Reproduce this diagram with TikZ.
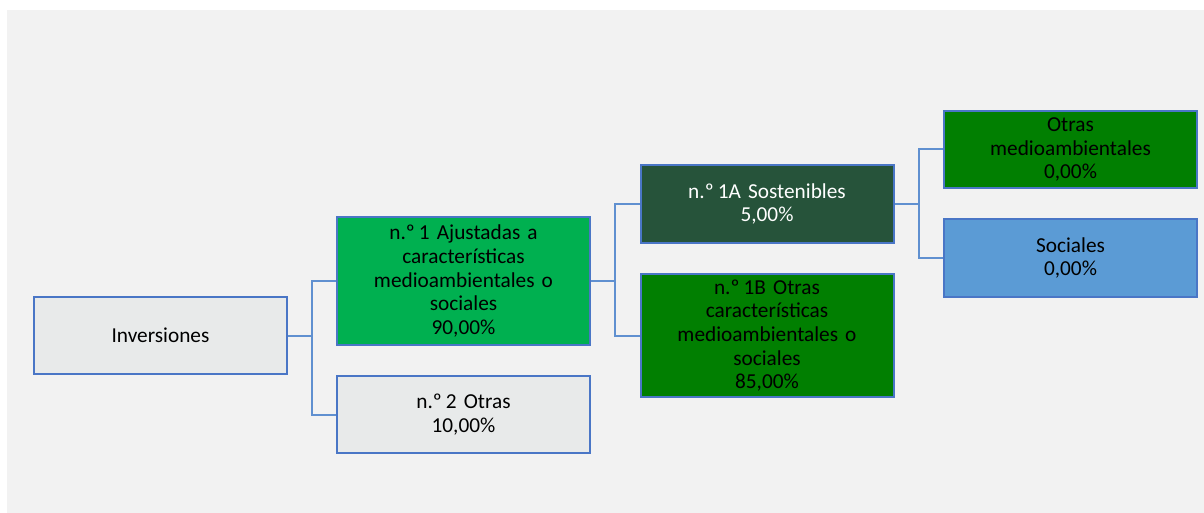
\documentclass[tikz,border=0pt]{standalone}
\usepackage{fontspec}
\setmainfont{Carlito}
\definecolor{bgc}{HTML}{F2F2F2}
\definecolor{bordc}{HTML}{4A76C6}
\definecolor{connc}{HTML}{6090D0}
\definecolor{grayf}{HTML}{E8EAEA}
\definecolor{brightg}{HTML}{00B050}
\definecolor{darkg}{HTML}{26533A}
\definecolor{midg}{HTML}{017F01}
\definecolor{bluef}{HTML}{5B9BD5}
\newcommand{\myno}{n.º\kern-3pt}
\begin{document}
\frenchspacing
\begin{tikzpicture}[x=1pt,y=-1pt,
  box/.style={draw=bordc, line width=2pt, inner sep=0pt, align=center,
    minimum width=253pt, text width=243pt,
    font=\fontsize{21.3}{23.7}\selectfont\frenchspacing},
  conn/.style={draw=connc, line width=2pt}]
\useasboundingbox (0,0) rectangle (1204,513);
\fill[bgc] (7,10) rectangle (1204,513);
\node[box, fill=grayf, minimum height=77pt] (inv) at (160.5,335.5) {Inversiones};
\node[box, fill=brightg, minimum height=128pt] (n1) at (463.5,281) {\myno{} 1 Ajustadas a\\características\\medioambientales o\\sociales\\90,00\%};
\node[box, fill=grayf, minimum height=77pt] (n2) at (463.5,414.5) {\myno{} 2 Otras\\10,00\%};
\node[box, fill=darkg, text=white, minimum height=77pt] (n1a) at (767,204) {\myno{} 1A Sostenibles\\5,00\%};
\node[box, fill=midg, minimum height=123pt] (n1b) at (767,335.5) {\myno{} 1B Otras\\características\\medioambientales o\\sociales\\85,00\%};
\node[box, fill=midg, minimum height=77pt] (om) at (1070.5,149.5) {Otras\\medioambientales\\0,00\%};
\node[box, fill=bluef, minimum height=78pt] (so) at (1070.5,258) {Sociales\\0,00\%};
\coordinate (j1) at (312,335.5);
\coordinate (j2) at (615,281);
\coordinate (j3) at (919,204);
\draw[conn] (inv.east) -- (j1);
\draw[conn] (j1) |- (n1.west);
\draw[conn] (j1) |- (n2.west);
\draw[conn] (n1.east) -- (j2);
\draw[conn] (j2) |- (n1a.west);
\draw[conn] (j2) |- (n1b.west);
\draw[conn] (n1a.east) -- (j3);
\draw[conn] (j3) |- (om.west);
\draw[conn] (j3) |- (so.west);
\end{tikzpicture}
\end{document}
